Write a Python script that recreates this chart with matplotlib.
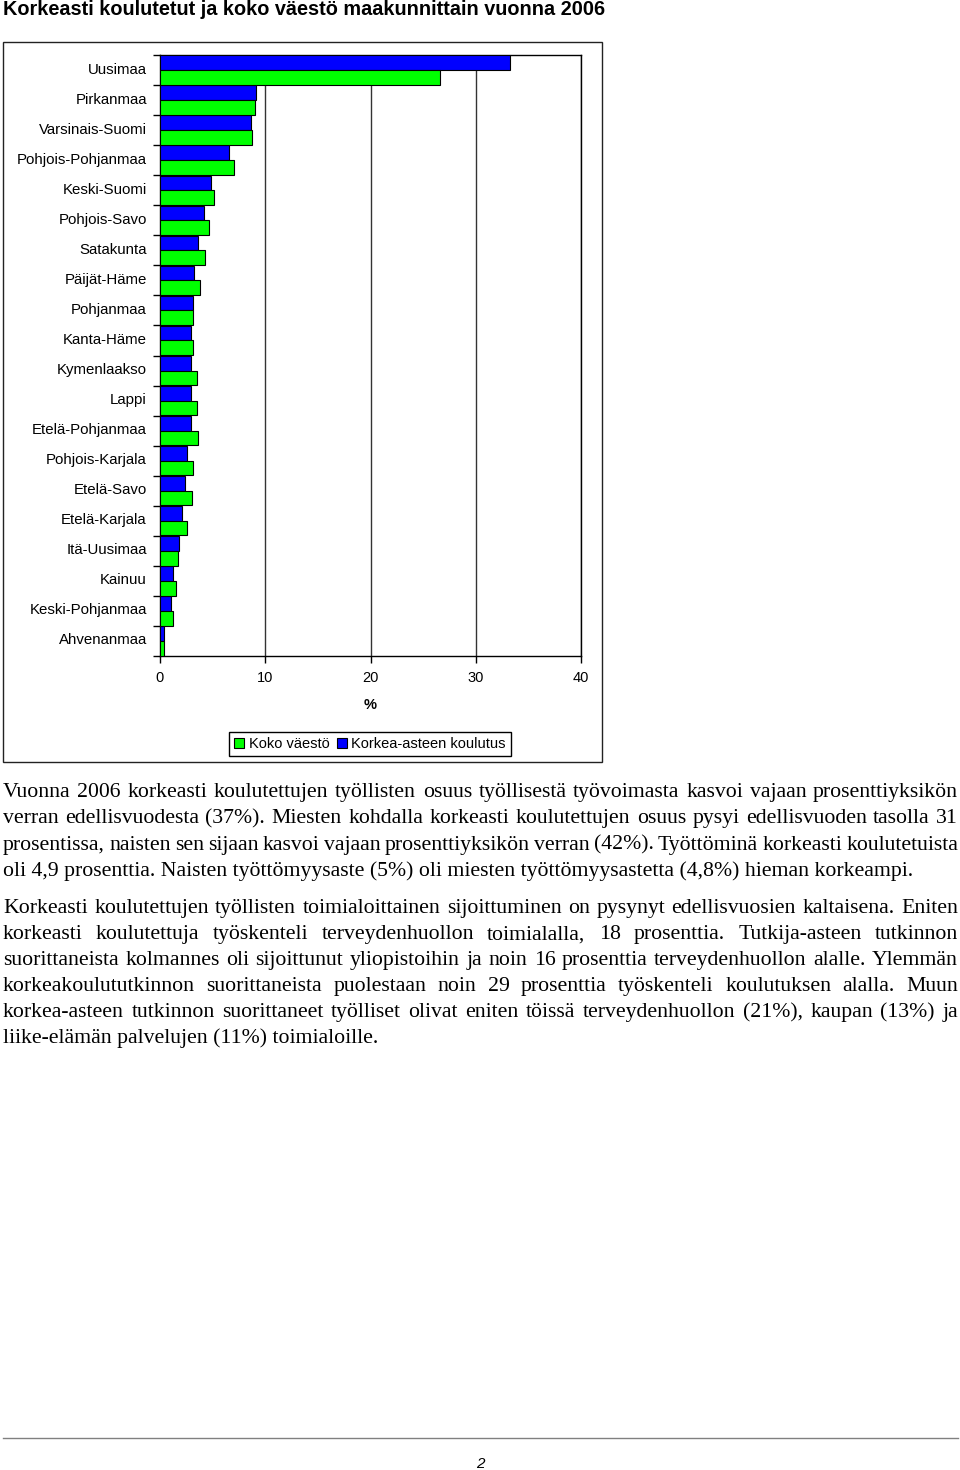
import matplotlib
matplotlib.use('Agg')
import matplotlib.pyplot as plt
import matplotlib.transforms as mtransforms
from matplotlib.patches import Rectangle
from matplotlib.lines import Line2D
import numpy as np

# ---- data ----
regions = ["Uusimaa", "Pirkanmaa", "Varsinais-Suomi", "Pohjois-Pohjanmaa",
           "Keski-Suomi", "Pohjois-Savo", "Satakunta", "Päijät-Häme",
           "Pohjanmaa", "Kanta-Häme", "Kymenlaakso", "Lappi",
           "Etelä-Pohjanmaa", "Pohjois-Karjala", "Etelä-Savo", "Etelä-Karjala",
           "Itä-Uusimaa", "Kainuu", "Keski-Pohjanmaa", "Ahvenanmaa"]
korkea = [33.3, 9.1, 8.6, 6.6, 4.8, 4.2, 3.6, 3.2, 3.1, 2.9,
          2.9, 2.9, 2.9, 2.6, 2.4, 2.1, 1.8, 1.2, 1.0, 0.4]
koko = [26.6, 9.0, 8.7, 7.0, 5.1, 4.7, 4.3, 3.8, 3.1, 3.1,
        3.5, 3.5, 3.6, 3.1, 3.0, 2.6, 1.7, 1.55, 1.2, 0.4]
xticks = [0, 10, 20, 30, 40]

title = "Korkeasti koulutetut ja koko väestö maakunnittain vuonna 2006"
para1 = [
    "Vuonna 2006 korkeasti koulutettujen työllisten osuus työllisestä työvoimasta kasvoi vajaan prosenttiyksikön",
    "verran edellisvuodesta (37%). Miesten kohdalla korkeasti koulutettujen osuus pysyi edellisvuoden tasolla 31",
    "prosentissa, naisten sen sijaan kasvoi vajaan prosenttiyksikön verran (42%). Työttöminä korkeasti koulutetuista",
    "oli 4,9 prosenttia. Naisten työttömyysaste (5%) oli miesten työttömyysastetta (4,8%) hieman korkeampi.",
]
para2 = [
    "Korkeasti koulutettujen työllisten toimialoittainen sijoittuminen on pysynyt edellisvuosien kaltaisena. Eniten",
    "korkeasti koulutettuja työskenteli terveydenhuollon toimialalla, 18 prosenttia. Tutkija-asteen tutkinnon",
    "suorittaneista kolmannes oli sijoittunut yliopistoihin ja noin 16 prosenttia terveydenhuollon alalle. Ylemmän",
    "korkeakoulututkinnon suorittaneista puolestaan noin 29 prosenttia työskenteli koulutuksen alalla. Muun",
    "korkea-asteen tutkinnon suorittaneet työlliset olivat eniten töissä terveydenhuollon (21%), kaupan (13%) ja",
    "liike-elämän palvelujen (11%) toimialoille.",
]

W, H = 960, 1470
SANS = ['Liberation Sans', 'DejaVu Sans']
SERIF = ['Liberation Serif', 'DejaVu Serif']


def fx(px):
    return px / W


def fy(py):
    return 1 - py / H


fig = plt.figure(figsize=(W / 100, H / 100), dpi=100)

# title
fig.text(fx(3), fy(15), title, fontsize=14.3, fontweight='bold', family=SANS,
         ha='left', va='baseline')

# frame round the chart
fig.patches.append(Rectangle((fx(3), fy(762)), fx(602) - fx(3), (762 - 42) / H,
                             transform=fig.transFigure, fill=False,
                             edgecolor='#222222', lw=1))

# ---- chart ----
ax = fig.add_axes([fx(160), fy(656), fx(581) - fx(160), (656 - 55) / H])
y = np.arange(len(regions))
ax.barh(y - 0.245, korkea, height=0.49, color='#0000ff', edgecolor='black', lw=0.8, zorder=3)
ax.barh(y + 0.245, koko, height=0.49, color='#00ff00', edgecolor='black', lw=0.8, zorder=3)

ax.set_xlim(0, 40)
ax.set_ylim(len(regions) - 0.5, -0.5)
ax.set_xticks(xticks)
ax.set_xticklabels([str(t) for t in xticks], family=SANS, fontsize=10.5)
ax.tick_params(axis='x', length=5, width=1, pad=6)
ax.set_yticks(y)
ax.set_yticklabels(regions, family=SANS, fontsize=10.8)
ax.tick_params(axis='y', which='major', length=0, pad=9.5)
ax.set_yticks(np.arange(len(regions) + 1) - 0.5, minor=True)
ax.tick_params(axis='y', which='minor', length=5, width=1)
ax.grid(axis='x', color='#333333', lw=1, zorder=0)
for s in ax.spines.values():
    s.set_color('black')
    s.set_linewidth(1)
# labels sit a little higher in the original
shift = mtransforms.ScaledTranslation(0, 2 / 100, fig.dpi_scale_trans)
for lab in ax.get_yticklabels():
    lab.set_transform(lab.get_transform() + shift)
ax.set_xlabel('%', family=SANS, fontsize=10.5, fontweight='bold', labelpad=9)

handles = [Rectangle((0, 0), 1, 1, facecolor='#00ff00', edgecolor='black', lw=0.8),
           Rectangle((0, 0), 1, 1, facecolor='#0000ff', edgecolor='black', lw=0.8)]
leg = fig.legend(handles, ['Koko väestö', 'Korkea-asteen koulutus'], ncol=2,
                 loc='center', bbox_to_anchor=(fx(370), fy(744)),
                 prop={'family': SANS, 'size': 10.5}, handlelength=0.7,
                 handleheight=0.7, handletextpad=0.3, columnspacing=0.5,
                 borderpad=0.35, fancybox=False, framealpha=1)
leg.get_frame().set_edgecolor('black')
leg.get_frame().set_linewidth(1)

# ---- body text, justified ----
renderer = fig.canvas.get_renderer()
LEFT, RIGHT = 3, 958
FS = 15.65


def draw_paragraph(lines, base0, step):
    for i, line in enumerate(lines):
        yy = fy(base0 + i * step)
        if i == len(lines) - 1:
            fig.text(fx(LEFT), yy, line, fontsize=FS, family=SERIF, va='baseline')
            continue
        words = line.split(' ')
        texts = [fig.text(0, yy, w, fontsize=FS, family=SERIF, va='baseline') for w in words]
        widths = [t.get_window_extent(renderer).width for t in texts]
        gap = (RIGHT - LEFT - sum(widths)) / (len(words) - 1)
        x = LEFT
        for t, w in zip(texts, widths):
            t.set_x(fx(x))
            x += w + gap


draw_paragraph(para1, 797, 26.3)
draw_paragraph(para2, 913, 26.1)

# footer
fig.lines.append(Line2D([fx(3), fx(958)], [fy(1438), fy(1438)],
                        transform=fig.transFigure, color='#808080', lw=1))
fig.text(fx(480), fy(1464), '2', fontsize=11, style='italic', family=SANS,
         ha='center', va='center')

fig.savefig('out.png', dpi=100)
